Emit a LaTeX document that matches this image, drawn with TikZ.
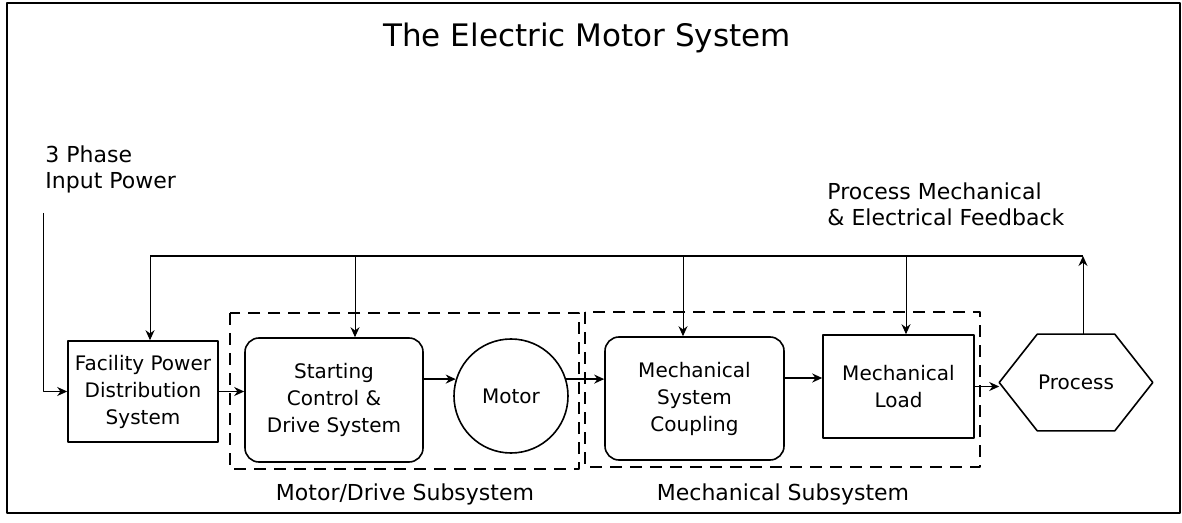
\documentclass[tikz,border=0pt]{standalone}
\usepackage{fontspec}
\setmainfont{DejaVu Sans}
\usetikzlibrary{arrows.meta}

\begin{document}
\begin{tikzpicture}[x=0.5pt, y=-0.5pt, line join=round, >={Stealth[length=5pt,width=4.5pt]},
	box/.style={draw, line width=0.8pt, align=center, inner sep=0pt, font=\fontsize{10}{13.5}\selectfont},
	rbox/.style={box, rounded corners=7pt},
	sub/.style={draw, line width=0.7pt, dash pattern=on 6pt off 4pt},
	lbl/.style={align=left, inner sep=0pt, font=\fontsize{11}{13}\selectfont},
	flow/.style={->, line width=0.8pt},
	feed/.style={->, line width=0.5pt}]
	\useasboundingbox (0,0) rectangle (1182,523);
	% Frame and title
	\draw[line width=1pt] (7,3) rectangle (1180,513);
	\node[font=\fontsize{15.5}{18}\selectfont] (title) at (587,38) {The Electric Motor System};
	
	% Subsystems
	\draw[sub] (230,313) rectangle (579,469);
	\draw[sub] (585,312) rectangle (980,467);
	\node[lbl] (mdlbl) at (405,494) {Motor/Drive Subsystem};
	\node[lbl] (mslbl) at (783,494) {Mechanical Subsystem};
	
	% Blocks
	\node[box, minimum width=75pt, minimum height=50.5pt] (fac) at (143,391.5) {Facility Power\\Distribution\\System};
	\node[rbox, minimum width=89pt, minimum height=62pt] (start) at (334,400) {Starting\\Control \&\\Drive System};
	\node[box, circle, minimum size=57pt] (motor) at (511,396) {Motor};
	\node[rbox, minimum width=89.5pt, minimum height=61.5pt] (coup) at (694.5,398.5) {Mechanical\\System\\Coupling};
	\node[box, minimum width=75.5pt, minimum height=51.5pt] (load) at (898.5,386.5) {Mechanical\\Load};
	\node[box, draw=none, minimum width=76pt, minimum height=47.5pt] (proc) at (1076,382.5) {Process};
	\draw[line width=0.8pt] (proc.west) -- ([xshift=19pt]proc.north west) -- ([xshift=-19pt]proc.north east)
		-- (proc.east) -- ([xshift=-19pt]proc.south east) -- ([xshift=19pt]proc.south west) -- cycle;
	
	% Labels
	\node[lbl, anchor=west] (inlbl) at (45,169) {3 Phase\\Input Power};
	\node[lbl, anchor=west] (fblbl) at (827,204) {Process Mechanical\\\& Electrical Feedback};
	
	% Power and mechanical flow
	\coordinate (inp) at (43,213);
	\coordinate (row) at (0,378);
	\draw[feed] (inp) |- (fac.west);
	\draw[flow] (fac.east) -- (fac.east -| start.west);
	\draw[flow] (start.east |- motor.163) -- (motor.163);
	\draw[flow] (motor.17) -- (motor.17 -| coup.west);
	\draw[flow] (coup.east |- row) -- (load.west |- row);
	\draw[flow] (load.east) -- (load.east -| proc.west);
	
	% Feedback
	\coordinate (t1) at (150,256);
	\coordinate (t2) at (355,256);
	\coordinate (t3) at (683,256);
	\coordinate (t4) at (906,256);
	\coordinate (tR) at (1083,256);
	\draw[line width=1pt] (t1) -- (tR);
	\draw[feed] (tR |- proc.north) -- (tR);
	\foreach \t/\n in {t1/fac, t2/start, t3/coup, t4/load}
		\draw[feed] (\t) -- (\t |- \n.north);
\end{tikzpicture}
\end{document}
